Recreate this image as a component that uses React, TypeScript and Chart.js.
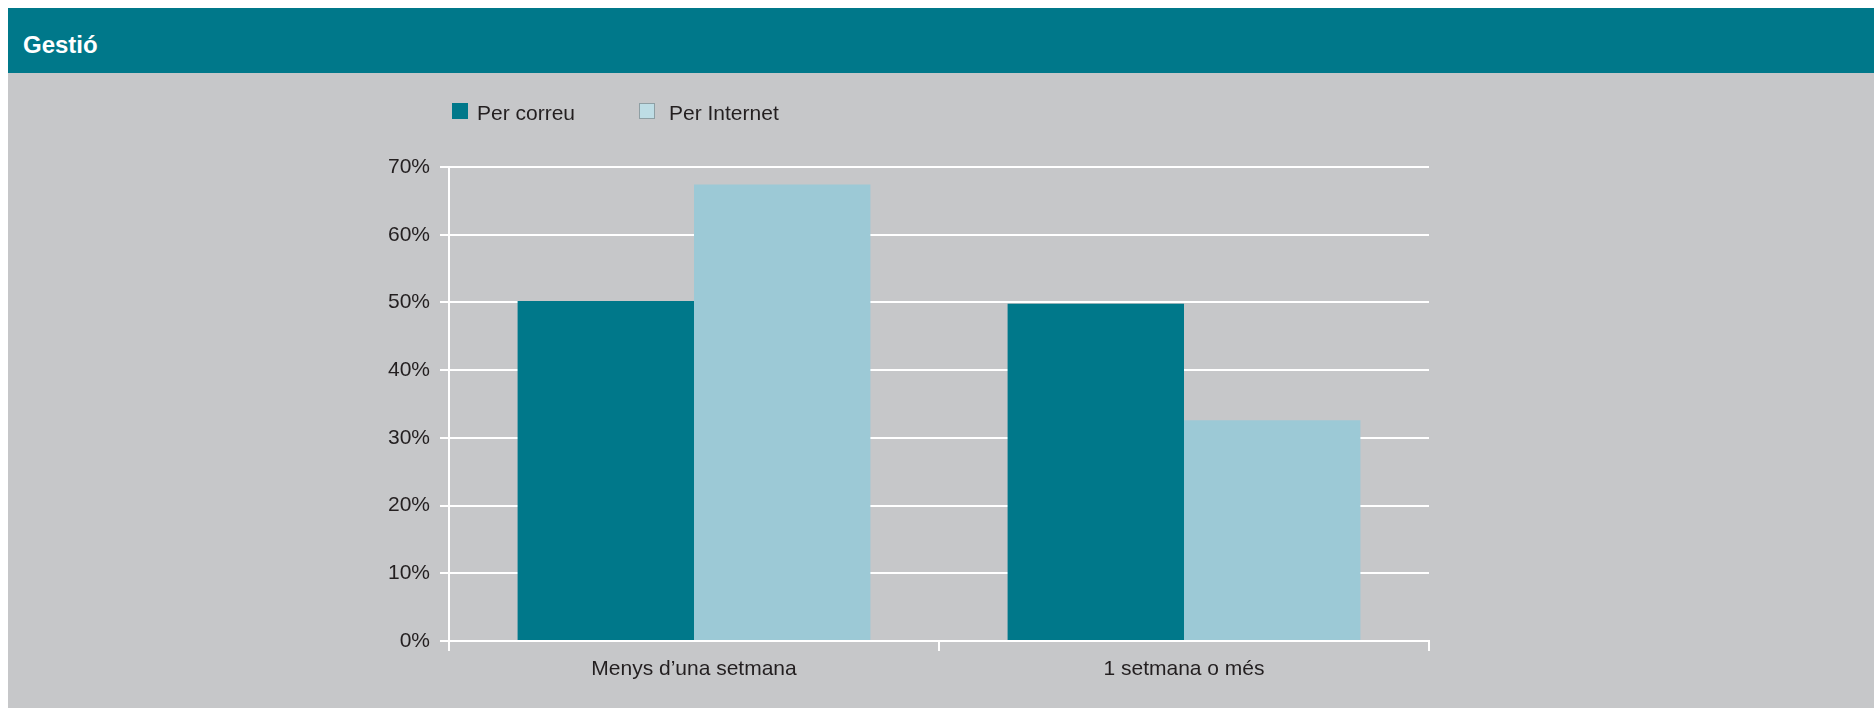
import React, { useEffect, useRef } from "react";
import { Chart, registerables } from "chart.js";

Chart.register(...registerables);

const title = "Gestió";
const categories = ["Menys d\u2019una setmana", "1 setmana o més"];
const seriesNames = ["Per correu", "Per Internet"];
const perCorreu = [50.2, 49.8];
const perInternet = [67.4, 32.6];
const yTicks = [0, 10, 20, 30, 40, 50, 60, 70];

const TEAL = "#00788A";
const LIGHT = "#9CC9D6";
const GREY = "#C6C7C9";
const TEXT = "#231F20";
const FONT = "'Liberation Sans', Arial, Helvetica, sans-serif";

export default function App() {
  const canvasRef = useRef<HTMLCanvasElement | null>(null);

  useEffect(() => {
    document.body.style.overflow = "hidden";
    document.documentElement.style.overflow = "hidden";
    const ctx = canvasRef.current;
    if (!ctx) return;
    const chart = new Chart(ctx, {
      type: "bar",
      data: {
        labels: categories,
        datasets: [
          { label: seriesNames[0], data: perCorreu, backgroundColor: TEAL, borderWidth: 0 },
          { label: seriesNames[1], data: perInternet, backgroundColor: LIGHT, borderWidth: 0 },
        ],
      },
      options: {
        responsive: false,
        animation: false,
        layout: { padding: { top: 94, right: 445, left: 0, bottom: 0 } },
        plugins: { legend: { display: false }, tooltip: { enabled: false } },
        datasets: { bar: { categoryPercentage: 0.72, barPercentage: 1 } },
        scales: {
          x: {
            afterFit: (s: any) => { s.height = 67; },
            grid: { offset: true, drawOnChartArea: false, color: "#FFFFFF", lineWidth: 2, tickLength: 10 },
            border: { color: "#FFFFFF", width: 2 },
            ticks: { color: TEXT, font: { family: FONT, size: 21 }, padding: 6 },
          },
          y: {
            min: 0,
            max: 70,
            afterFit: (s: any) => { s.width = 441; },
            afterBuildTicks: (s: any) => { s.ticks = yTicks.map((v) => ({ value: v })); },
            grid: { color: "#FFFFFF", lineWidth: 2, tickLength: 9 },
            border: { color: "#FFFFFF", width: 2 },
            ticks: {
              color: TEXT,
              font: { family: FONT, size: 21 },
              padding: 10,
              callback: (v: any) => `${v}%`,
            },
          },
        },
      },
    });
    return () => chart.destroy();
  }, []);

  return (
    <div
      style={{
        position: "fixed",
        left: 8,
        top: 8,
        right: 0,
        height: 700,
        overflow: "hidden",
        fontFamily: FONT,
        background: GREY,
      }}
    >
      <div style={{ height: 65, background: TEAL, position: "relative" }}>
        <span
          style={{
            position: "absolute",
            left: 15,
            top: 25,
            lineHeight: "24px",
            fontSize: 24,
            fontWeight: "bold",
            color: "#FFFFFF",
          }}
        >
          {title}
        </span>
      </div>
      <div style={{ height: 635, background: GREY, position: "relative" }}>
        <canvas ref={canvasRef} width={1866} height={635} style={{ display: "block" }} />
        <div style={{ position: "absolute", left: 444, top: 30, width: 16, height: 16, background: TEAL }} />
        <span style={{ position: "absolute", left: 469, top: 29, fontSize: 21, lineHeight: "21px", color: TEXT, whiteSpace: "nowrap" }}>
          {seriesNames[0]}
        </span>
        <div
          style={{
            position: "absolute",
            left: 631,
            top: 30,
            width: 16,
            height: 16,
            boxSizing: "border-box",
            background: "#BEDDE5",
            border: "1.5px solid #8E9FA4",
          }}
        />
        <span style={{ position: "absolute", left: 661, top: 29, fontSize: 21, lineHeight: "21px", color: TEXT, whiteSpace: "nowrap" }}>
          {seriesNames[1]}
        </span>
      </div>
    </div>
  );
}
